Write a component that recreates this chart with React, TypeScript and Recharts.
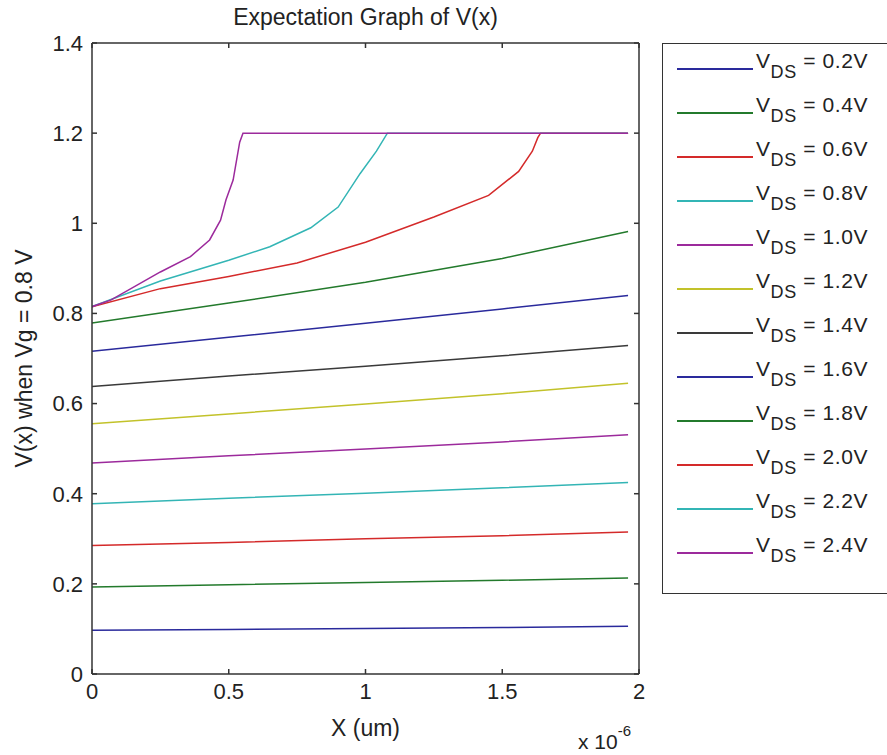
import { Legend, Line, LineChart, XAxis, YAxis } from "recharts";

const FONT = "'Liberation Sans', Arial, sans-serif";

// V_DS sweep labels and MATLAB-ish colour order
const vdsLabels = ["0.2V", "0.4V", "0.6V", "0.8V", "1.0V", "1.2V", "1.4V", "1.6V", "1.8V", "2.0V", "2.2V", "2.4V"];
const colors = ["#2a2a9c", "#237a2c", "#d42a2a", "#33b5b5", "#9c2a9c", "#c2c22a", "#3a3a3a", "#2a2a9c", "#237a2c", "#d42a2a", "#33b5b5", "#9c2a9c"];

// x positions (x 10^-6 m)
const xLin = [0, 0.5, 1, 1.5, 1.96];
const v02 = [0.097, 0.099, 0.101, 0.103, 0.106];
const v04 = [0.193, 0.198, 0.203, 0.208, 0.213];
const v06 = [0.285, 0.292, 0.3, 0.307, 0.315];
const v08 = [0.378, 0.39, 0.401, 0.413, 0.425];
const v10 = [0.468, 0.484, 0.499, 0.515, 0.531];
const v12 = [0.555, 0.577, 0.599, 0.622, 0.645];
const v14 = [0.638, 0.661, 0.683, 0.706, 0.729];
const v16 = [0.716, 0.747, 0.778, 0.81, 0.84];
const v18 = [0.779, 0.823, 0.869, 0.922, 0.982];

const x20 = [0, 0.25, 0.5, 0.75, 1.0, 1.25, 1.45, 1.56, 1.61, 1.63, 1.64, 1.96];
const v20 = [0.815, 0.855, 0.882, 0.912, 0.958, 1.014, 1.062, 1.115, 1.16, 1.19, 1.2, 1.2];
const x22 = [0, 0.25, 0.5, 0.65, 0.8, 0.9, 0.98, 1.04, 1.08, 1.96];
const v22 = [0.815, 0.872, 0.918, 0.948, 0.99, 1.036, 1.11, 1.16, 1.2, 1.2];
const x24 = [0, 0.07, 0.25, 0.36, 0.43, 0.47, 0.49, 0.516, 0.54, 0.552, 1.96];
const v24 = [0.815, 0.83, 0.892, 0.926, 0.963, 1.007, 1.052, 1.096, 1.18, 1.2, 1.2];

const xTicks = [0, 0.5, 1, 1.5, 2];
const yTicks = [0, 0.2, 0.4, 0.6, 0.8, 1, 1.2, 1.4];

const seriesX = [xLin, xLin, xLin, xLin, xLin, xLin, xLin, xLin, xLin, x20, x22, x24];
const seriesV = [v02, v04, v06, v08, v10, v12, v14, v16, v18, v20, v22, v24];

const series = seriesV.map((vs, i) => ({
  name: vdsLabels[i],
  color: colors[i],
  data: vs.map((v, j) => ({ x: seriesX[i][j], v })),
}));

const fmtY = (v: number) => (v === 0 ? "0" : v === 1 ? "1" : v.toFixed(1));
const fmtX = (v: number) => String(v);
const blank = () => "";

const tickStyle = { fontSize: 22, fill: "#222", fontFamily: FONT };
const axisStroke = { stroke: "#333", strokeWidth: 1.5 };

function TitleLabel(props: any) {
  const vb = props.viewBox || { x: 92, y: 42, width: 547 };
  return (
    <text x={vb.x + vb.width / 2} y={25} textAnchor="middle" fontSize={23} fill="#222" fontFamily={FONT}>
      Expectation Graph of V(x)
    </text>
  );
}

function XLabel(props: any) {
  const vb = props.viewBox || { x: 92, y: 674, width: 547 };
  const right = vb.x + vb.width;
  return (
    <g fontFamily={FONT} fill="#222">
      <text x={vb.x + vb.width / 2} y={vb.y + 62} textAnchor="middle" fontSize={23}>
        X (um)
      </text>
      <text x={right - 61} y={vb.y + 75} fontSize={21}>
        x 10<tspan dy={-13} fontSize={15}>-6</tspan>
      </text>
    </g>
  );
}

function YLabel(props: any) {
  const vb = props.viewBox || { x: 42, y: 43, width: 50, height: 631 };
  const cy = vb.y + vb.height / 2;
  return (
    <text
      x={24}
      y={cy}
      transform={`rotate(-90, 24, ${cy})`}
      textAnchor="middle"
      dominantBaseline="central"
      fontSize={23}
      fill="#222"
      fontFamily={FONT}
    >
      V(x) when Vg = 0.8 V
    </text>
  );
}

function LegendBox() {
  return (
    <div
      style={{
        position: "relative",
        width: 240,
        height: 551,
        border: "1.5px solid #333",
        boxSizing: "border-box",
        background: "#fff",
        fontFamily: FONT,
        color: "#222",
      }}
    >
      {series.map((s, i) => {
        const ly = Math.round(24 + i * 44);
        return (
          <div key={s.name}>
            <div style={{ position: "absolute", left: 14, top: ly, width: 76, height: 1.5, background: s.color }} />
            <div
              style={{
                position: "absolute",
                left: 93,
                top: ly - 19,
                fontSize: 21,
                lineHeight: "24px",
                whiteSpace: "nowrap",
                letterSpacing: 0.6,
              }}
            >
              V<span style={{ fontSize: 18, position: "relative", top: 10 }}>DS</span> = {s.name}
            </div>
          </div>
        );
      })}
    </div>
  );
}

export default function App() {
  return (
    <div style={{ position: "absolute", left: 0, top: 0, width: 887, height: 755, overflow: "hidden", background: "#fff" }}>
      <LineChart width={887} height={755} margin={{ top: 42, right: 247, bottom: 11, left: 42 }}>
        <XAxis
          dataKey="x"
          type="number"
          domain={[0, 2]}
          allowDataOverflow
          ticks={xTicks}
          tickFormatter={fmtX}
          height={70}
          tickSize={-5}
          tickMargin={14}
          tick={tickStyle}
          axisLine={axisStroke}
          tickLine={axisStroke}
          label={<XLabel />}
        />
        <XAxis
          xAxisId="top"
          dataKey="x"
          orientation="top"
          type="number"
          domain={[0, 2]}
          allowDataOverflow
          ticks={xTicks}
          tickFormatter={blank}
          height={1}
          tickSize={-5}
          axisLine={axisStroke}
          tickLine={axisStroke}
          label={<TitleLabel />}
        />
        <YAxis
          type="number"
          domain={[0, 1.4]}
          allowDataOverflow
          ticks={yTicks}
          tickFormatter={fmtY}
          width={50}
          tickSize={-5}
          tickMargin={14}
          tick={tickStyle}
          axisLine={axisStroke}
          tickLine={axisStroke}
          label={<YLabel />}
        />
        <YAxis
          yAxisId="right"
          orientation="right"
          type="number"
          domain={[0, 1.4]}
          allowDataOverflow
          ticks={yTicks}
          tickFormatter={blank}
          width={1}
          tickSize={-5}
          axisLine={axisStroke}
          tickLine={axisStroke}
        />
        <Legend
          layout="vertical"
          align="center"
          verticalAlign="middle"
          content={() => <LegendBox />}
          wrapperStyle={{ position: "absolute", left: 662, top: 43, width: 240 }}
        />
        {series.map((s) => (
          <Line
            key={s.name}
            data={s.data}
            dataKey="v"
            name={s.name}
            type="linear"
            stroke={s.color}
            strokeWidth={1.5}
            dot={false}
            isAnimationActive={false}
          />
        ))}
        {/* invisible series so the mirrored frame axes (top/right) get drawn */}
        <Line
          data={series[0].data}
          xAxisId="top"
          yAxisId="right"
          dataKey="v"
          stroke="none"
          dot={false}
          legendType="none"
          isAnimationActive={false}
        />
      </LineChart>
    </div>
  );
}
